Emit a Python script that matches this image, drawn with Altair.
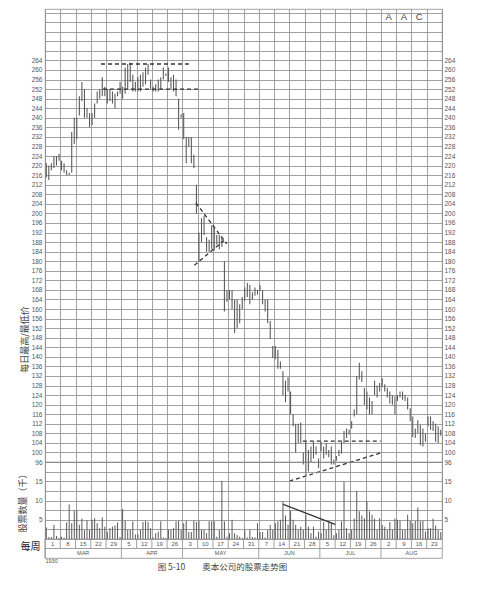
import altair as alt
import pandas as pd

# ---------------- data ----------------
week_labels = ["1", "8", "15", "22", "29", "5", "12", "19", "26", "3", "10", "17", "24",
               "31", "7", "14", "21", "28", "5", "12", "19", "26", "2", "9", "16", "23"]
month_labels = ["MAR", "APR", "MAY", "JUN", "JUL", "AUG"]
month_first_week = [0, 5, 9, 14, 18, 22]
month_last_week = [5, 9, 14, 18, 22, 26]
DAYS_PER_WEEK = 6

high = [
    221, 220, 221, 224, 224, 225,
    222, 221, 218, 217, 234, 240,
    240, 249, 255, 252, 244, 242,
    242, 246, 251, 252, 257, 253,
    252, 252, 251, 250, 251, 255,
    253, 261, 262.5, 263, 258, 255,
    257, 258, 259, 261, 262.5, 256,
    253, 254, 256, 257, 261, 258.5,
    261, 257, 258, 256, 248, 241.5,
    242, 232, 232, 232, 224.5, 212,
    192, 198, 199, 190, 189, 195,
    194, 191, 191, 190, 180, 168,
    168, 168, 164, 164, 162, 165,
    169, 171, 170, 167, 169, 168,
    170, 168, 164, 164, 155, 144.5,
    144.5, 143, 138, 134, 130, 131.5,
    125.5, 116, 112, 112, 112.5, 100,
    104.5, 101, 102.5, 104.5, 102.5, 97.5,
    104.5, 102.5, 104, 101, 102.5, 97,
    98.5, 101, 104.5, 109, 110, 109.5,
    113, 118, 132, 137.5, 134, 127,
    125.5, 123, 121.5, 130, 128, 129,
    131, 128.5, 127, 125.5, 124, 123.5,
    124, 125.5, 125.5, 124, 123, 118.5,
    115, 110, 113.5, 111.5, 110, 108,
    115, 115, 113, 112, 111, 109.5,
]
low = [
    215, 214, 218, 219, 220, 222,
    218, 217, 216, 216, 217, 229,
    231, 241, 247, 240, 240, 236,
    237, 240, 246, 248, 249, 249,
    246, 247, 246, 244, 249, 250,
    248, 250, 252, 255, 251, 251,
    251, 251, 253, 254, 258, 252,
    251, 251, 251, 252, 256, 257.5,
    255, 252, 251, 249, 235, 240,
    231, 221, 228, 221, 219, 200,
    180, 188, 191, 184, 184, 185,
    184.5, 187, 185, 186, 159, 163,
    164, 160, 150, 152, 154, 160,
    163.5, 165, 162, 164, 165.5, 166,
    167.5, 162, 159, 154, 147.5, 139.5,
    139, 135, 135, 124, 121, 125.5,
    116, 111, 100, 104, 104, 95,
    90, 92, 96, 97.5, 99, 93.5,
    100.5, 97.5, 99, 98, 95, 95,
    96.5, 98.5, 99.5, 104, 106, 107.5,
    110, 115, 116, 130.5, 129.5, 120,
    118, 116, 116, 124, 123, 125.5,
    127.5, 125.5, 123, 120.5, 120, 116,
    121.5, 123, 122, 121.5, 118, 113,
    106.5, 106, 108, 103, 102.5, 104.5,
    111, 109.5, 109, 104.5, 104, 107,
]
volume = [
    3.0, 0.5, 0.5, 3.7, 0.8, 0.3,
    0.6, 0.4, 4.3, 9.0, 4.1, 7.3,
    7.4, 3.7, 5.3, 2.3, 4.8, 2.4,
    5.0, 5.4, 4.1, 2.8, 5.6, 3.2,
    1.9, 2.8, 3.2, 3.5, 4.3, 0.5,
    7.8, 4.7, 2.4, 2.4, 4.6, 1.2,
    1.2, 2.4, 4.4, 4.7, 4.4, 2.8,
    0.4, 1.5, 1.9, 4.6, 0.4, 0.3,
    2.4, 2.4, 2.8, 4.6, 4.7, 2.4,
    4.1, 4.7, 1.8, 1.8, 4.7, 4.4,
    4.7, 2.4, 2.4, 1.5, 4.6, 4.6,
    4.6, 0.6, 2.4, 15.1, 4.6, 0.6,
    1.5, 5.0, 1.5, 1.0, 0.6, 0.3,
    2.4, 0.4, 2.4, 0.5, 0.4, 4.1,
    1.8, 1.8, 0.4, 2.4, 3.7, 2.4,
    4.1, 4.6, 5.0, 9.8, 6.1, 3.7,
    7.4, 5.0, 3.7, 2.4, 3.2, 2.4,
    6.3, 3.2, 1.5, 3.2, 0.6, 1.9,
    1.5, 4.4, 2.4, 4.7, 4.1, 1.0,
    1.5, 2.4, 4.6, 14.9, 2.8, 1.5,
    2.4, 5.3, 12.5, 7.2, 6.1, 5.4,
    9.8, 7.2, 6.3, 5.3, 2.4, 5.4,
    3.7, 3.2, 2.4, 4.4, 2.4, 5.3,
    5.0, 4.7, 2.4, 2.4, 6.3, 4.7,
    4.1, 4.7, 8.2, 4.6, 4.7, 1.9,
    2.8, 2.8, 5.3, 3.5, 2.4, 1.8,
]

# dashed pattern lines on the price chart (trading-day units, price units)
trend_x1 = [22.0, 22.8, 59.3, 58.7, 101.3, 96.0]
trend_y1 = [262.5, 252.0, 204.4, 178.3, 104.7, 88.0]
trend_x2 = [56.5, 60.1, 71.4, 70.3, 131.9, 131.9]
trend_y2 = [262.5, 252.0, 187.3, 188.7, 104.7, 99.8]
# solid volume trend line (trading-day units, thousand shares)
vtrend_x1 = [93.6]
vtrend_y1 = [9.0]
vtrend_x2 = [114.0]
vtrend_y2 = [3.8]

letters = ["A", "A", "C"]
letter_week = [22, 23, 24]
letter_price = [282, 282, 282]

caption = "图 5-10\u3000\u3000奥本公司的股票走势图"
price_title = "每日最高/最低价"
vol_title = "股票数量（千）"
week_row_title = "每周"
year_label = "1930"

# ---------------- frames ----------------
n_weeks = len(week_labels)
n_days = n_weeks * DAYS_PER_WEEK
daily = pd.DataFrame({
    "day": [i + 0.5 for i in range(len(high))],
    "high": high, "low": low, "vol": volume,
    "base": [0] * len(high),
})
trends = pd.DataFrame({"x1": trend_x1, "y1": trend_y1, "x2": trend_x2, "y2": trend_y2})
vtrends = pd.DataFrame({"x1": vtrend_x1, "y1": vtrend_y1, "x2": vtrend_x2, "y2": vtrend_y2})
letters_df = pd.DataFrame({
    "t": letters,
    "x": [w * DAYS_PER_WEEK + DAYS_PER_WEEK / 2 for w in letter_week],
    "y": letter_price,
})
weeks_df = pd.DataFrame({
    "t": week_labels,
    "x": [k * DAYS_PER_WEEK + DAYS_PER_WEEK / 2 for k in range(n_weeks)],
    "sep": [k * DAYS_PER_WEEK for k in range(n_weeks)],
    "y": [1.5] * n_weeks, "r0": [1] * n_weeks, "r1": [2] * n_weeks,
})
months_df = pd.DataFrame({
    "t": month_labels,
    "x": [(a + b) * DAYS_PER_WEEK / 2 for a, b in zip(month_first_week, month_last_week)],
    "sep": [a * DAYS_PER_WEEK for a in month_first_week],
    "y": [0.5] * len(month_labels), "r0": [0] * len(month_labels), "r1": [1] * len(month_labels),
})
divider_df = pd.DataFrame({"y": [1]})

# ---------------- style ----------------
GRID = "#8a8a8a"
INK = "#555555"
LBL = "#555555"
SANS = "Liberation Sans"
CJK = "Noto Sans CJK SC"
W = 397
PH = 453
VH = 77
RH = 19

xscale = alt.Scale(domain=[0, n_days], nice=False, zero=False)
xgrid = alt.Axis(values=list(range(0, n_days + 1, DAYS_PER_WEEK)), grid=True, gridColor=GRID,
                 gridWidth=0.8, labels=False, ticks=False, domain=False, title=None)

pscale = alt.Scale(domain=[96, 285.5], nice=False, zero=False)
price_vals = list(range(96, 288, 4))
plabel = "datum.value <= 264 ? datum.label : ''"
lab_common = dict(labelFont=SANS, labelFontSize=6.5, labelColor=LBL, ticks=False, domain=False)

p_left = alt.Axis(values=price_vals, labelExpr=plabel, grid=True, gridColor=GRID, gridWidth=0.8,
                  labelPadding=3, title=price_title, titleX=-21, titleY=330, titleAngle=270,
                  titleAlign="center", titleBaseline="middle", titleFont=CJK, titleFontSize=9,
                  titleFontWeight="normal", titleColor="#444444", **lab_common)
p_right = alt.Axis(orient="right", values=price_vals, labelExpr=plabel, grid=False,
                   labelPadding=2, title=None, **lab_common)

bars = alt.Chart(daily).mark_rule(color=INK, strokeWidth=1.05, clip=False).encode(
    x=alt.X("day:Q", scale=xscale, axis=xgrid),
    y=alt.Y("high:Q", scale=pscale, axis=p_left),
    y2="low:Q",
)
p_right_layer = alt.Chart(daily).mark_rule(opacity=0).encode(
    x=alt.X("day:Q", scale=xscale, axis=xgrid),
    y=alt.Y("high:Q", scale=pscale, axis=p_right),
)
trend_layer = alt.Chart(trends).mark_rule(color="#333333", strokeWidth=1.3, strokeDash=[4, 3],
                                          clip=False).encode(
    x=alt.X("x1:Q", scale=xscale, axis=xgrid),
    y=alt.Y("y1:Q", scale=pscale, axis=None),
    x2="x2:Q", y2="y2:Q",
)
letter_layer = alt.Chart(letters_df).mark_text(font=SANS, fontSize=9.5, color="#444444").encode(
    x=alt.X("x:Q", scale=xscale, axis=xgrid),
    y=alt.Y("y:Q", scale=pscale, axis=None),
    text="t:N",
)
price = alt.layer(bars, trend_layer, letter_layer, p_right_layer).resolve_axis(
    y="independent").properties(width=W, height=PH)

vscale = alt.Scale(domain=[0, 20], nice=False, zero=True)
vol_vals = [2.5, 5, 7.5, 10, 12.5, 15, 17.5]
vlabel = "datum.value % 5 == 0 ? datum.label : ''"
v_left = alt.Axis(values=vol_vals, labelExpr=vlabel, grid=True, gridColor=GRID, gridWidth=0.8,
                  labelPadding=3, title=vol_title, titleX=-23, titleAngle=270, titleAlign="center",
                  titleBaseline="middle", titleFont=CJK, titleFontSize=9, titleFontWeight="normal",
                  titleColor="#444444", **lab_common)
v_right = alt.Axis(orient="right", values=vol_vals, labelExpr=vlabel, grid=False, labelPadding=2,
                   title=None, **lab_common)
vbars = alt.Chart(daily).mark_rule(color="#5a5a5a", strokeWidth=1.0).encode(
    x=alt.X("day:Q", scale=xscale, axis=xgrid),
    y=alt.Y("vol:Q", scale=vscale, axis=v_left),
    y2="base:Q",
)
v_right_layer = alt.Chart(daily).mark_rule(opacity=0).encode(
    x=alt.X("day:Q", scale=xscale, axis=xgrid),
    y=alt.Y("vol:Q", scale=vscale, axis=v_right),
)
vtrend_layer = alt.Chart(vtrends).mark_rule(color="#333333", strokeWidth=1.3).encode(
    x=alt.X("x1:Q", scale=xscale, axis=xgrid),
    y=alt.Y("y1:Q", scale=vscale, axis=None),
    x2="x2:Q", y2="y2:Q",
)
vol = alt.layer(vbars, vtrend_layer, v_right_layer).resolve_axis(y="independent").properties(
    width=W, height=VH)

rscale = alt.Scale(domain=[0, 2], nice=False, zero=False)
rx_axis = alt.Axis(labels=False, ticks=False, domain=False, grid=False, title=year_label,
                   titleAnchor="start", titleAlign="left", titleFont=SANS, titleFontSize=5.5,
                   titleFontWeight="normal", titleColor=LBL, titlePadding=0)
ry_axis = alt.Axis(labels=False, ticks=False, domain=False, grid=False,
                   title=week_row_title, titleAngle=0, titleAlign="right", titleBaseline="middle",
                   titleX=-5, titleY=7, titleFont=CJK, titleFontSize=10, titleFontWeight="normal",
                   titleColor="#222222")
week_text = alt.Chart(weeks_df).mark_text(font=SANS, fontSize=6, color=LBL).encode(
    x=alt.X("x:Q", scale=xscale, axis=rx_axis),
    y=alt.Y("y:Q", scale=rscale, axis=ry_axis),
    text="t:N",
)
month_text = alt.Chart(months_df).mark_text(font=SANS, fontSize=5.5, color=LBL).encode(
    x=alt.X("x:Q", scale=xscale, axis=rx_axis),
    y=alt.Y("y:Q", scale=rscale, axis=ry_axis),
    text="t:N",
)
week_sep = alt.Chart(weeks_df).mark_rule(color=GRID, strokeWidth=0.8).encode(
    x=alt.X("sep:Q", scale=xscale, axis=rx_axis),
    y=alt.Y("r0:Q", scale=rscale, axis=ry_axis),
    y2="r1:Q",
)
month_sep = alt.Chart(months_df).mark_rule(color=GRID, strokeWidth=0.8).encode(
    x=alt.X("sep:Q", scale=xscale, axis=rx_axis),
    y=alt.Y("r0:Q", scale=rscale, axis=ry_axis),
    y2="r1:Q",
)
divider = alt.Chart(divider_df).mark_rule(color=GRID, strokeWidth=0.8).encode(
    y=alt.Y("y:Q", scale=rscale, axis=ry_axis),
)
rows = alt.layer(week_sep, month_sep, divider, week_text, month_text).properties(width=W, height=RH)

chart = alt.vconcat(price, vol, rows, spacing=0, bounds="flush").resolve_scale(
    y="independent").properties(
    title=alt.TitleParams(caption, orient="bottom", anchor="middle", font=CJK, fontSize=8.5,
                          fontWeight="normal", color="#444444", offset=-1, dx=-14),
    padding={"left": 9, "right": 5, "top": 0, "bottom": 5},
    background="white",
).configure_view(stroke=GRID, strokeWidth=0.8)

chart.save("out.html", embed_options={"renderer": "svg", "actions": False})
